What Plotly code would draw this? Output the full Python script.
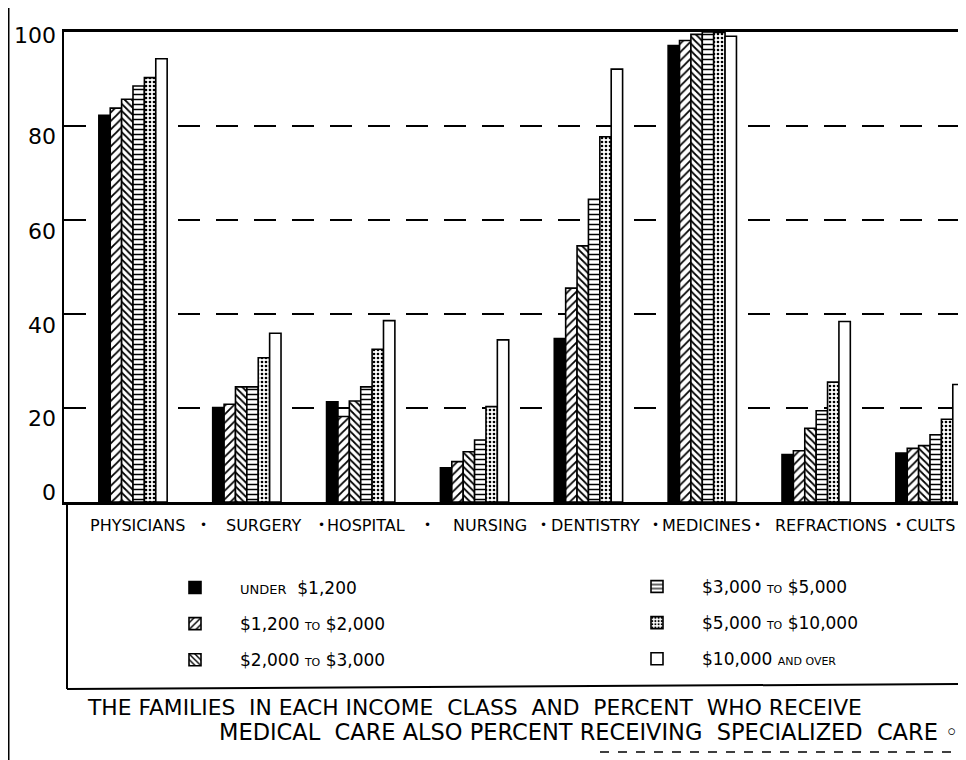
import plotly.graph_objects as go

# ---------------- data ----------------
categories = ["PHYSICIANS", "SURGERY", "HOSPITAL", "NURSING",
              "DENTISTRY", "MEDICINES", "REFRACTIONS", "CULTS"]

under_1200 = [82.3, 20.1, 21.3, 7.3, 34.8, 97.1, 10.1, 10.4]
from_1200_to_2000 = [83.8, 20.8, 18.2, 8.6, 45.5, 98.2, 10.9, 11.4]
from_2000_to_3000 = [85.7, 24.5, 21.5, 10.7, 54.5, 99.5, 15.7, 12.0]
from_3000_to_5000 = [88.5, 24.5, 24.5, 13.2, 64.4, 100.0, 19.4, 14.3]
from_5000_to_10000 = [90.3, 30.7, 32.5, 20.3, 77.7, 99.9, 25.5, 17.6]
over_10000 = [94.3, 35.9, 38.6, 34.5, 92.1, 99.1, 38.4, 25.0]

series_names = [
    "<span style='font-size:13px'>UNDER</span>  $1,200",
    "$1,200 <span style='font-size:11px'>TO</span> $2,000",
    "$2,000 <span style='font-size:11px'>TO</span> $3,000",
    "$3,000 <span style='font-size:11px'>TO</span> $5,000",
    "$5,000 <span style='font-size:11px'>TO</span> $10,000",
    "$10,000 <span style='font-size:11px'>AND OVER</span>",
]
series_values = [under_1200, from_1200_to_2000, from_2000_to_3000,
                 from_3000_to_5000, from_5000_to_10000, over_10000]

y_ticks = [0, 20, 40, 60, 80, 100]
y_tick_labels = ["0", "20", "40", "60", "80", "100"]

title_line1 = "THE FAMILIES  IN EACH INCOME  CLASS  AND  PERCENT  WHO RECEIVE"
title_line2 = "MEDICAL  CARE ALSO PERCENT RECEIVING  SPECIALIZED  CARE ◦"

# ---------------- geometry helpers (window pixel coordinates) ----------------
OFF = 8                      # default page body margin
WIN_W, WIN_H = 966, 760
W, H = WIN_W - OFF, WIN_H - OFF
L, R, T, B = 64, 966, 32, 502   # plot area in window pixels


def px(x):
    return (x - L) / (R - L)


def py(y):
    return (B - y) / (B - T)


FONT = "DejaVu Sans"

styles = [
    dict(color="black"),
    dict(color="white", pattern=dict(shape="/", fgcolor="black", bgcolor="white",
                                     size=6, solidity=0.3, fillmode="replace")),
    dict(color="white", pattern=dict(shape="\\", fgcolor="black", bgcolor="white",
                                     size=5, solidity=0.35, fillmode="replace")),
    dict(color="white", pattern=dict(shape="-", fgcolor="black", bgcolor="white",
                                     size=5, solidity=0.3, fillmode="replace")),
    dict(color="white", pattern=dict(shape=".", fgcolor="black", bgcolor="white",
                                     size=4, solidity=0.35, fillmode="replace")),
    dict(color="white"),
]

fig = go.Figure()
for i, (name, vals, st) in enumerate(zip(series_names, series_values, styles)):
    fig.add_trace(go.Bar(
        x=categories, y=vals, name=name,
        marker=dict(line=dict(color="black", width=1.6), **st),
        legend="legend" if i < 3 else "legend2",
        legendgroup=f"g{i}",
    ))

annotations = []
# hand-placed y labels (lettered slightly off the rules, as in the original)
label_yshift = [10, -10, -11, -11, -10, -3]
for val, txt, sh in zip(y_ticks, y_tick_labels, label_yshift):
    annotations.append(dict(x=px(58), xref="paper", y=val, yref="y", text=txt,
                            showarrow=False, xanchor="right", yanchor="middle",
                            yshift=sh,
                            font=dict(family=FONT, size=22, color="black")))

# category labels under the baseline
label_shift = [4, 17, 5, 15, 7, 4, 15, 1]
bullet_px = [203, 321, 427, 543, 655, 757, 898]
for cat, sh in zip(categories, label_shift):
    annotations.append(dict(x=cat, xref="x", y=py(525), yref="paper", text=cat,
                            showarrow=False, xshift=sh, xanchor="center",
                            yanchor="middle",
                            font=dict(family=FONT, size=16, color="black")))
for bx in bullet_px:
    annotations.append(dict(x=px(bx), xref="paper", y=py(525), yref="paper",
                            text="•", showarrow=False, xanchor="center",
                            yanchor="middle",
                            font=dict(family=FONT, size=12, color="black")))
annotations.append(dict(x=px(85), xref="paper", y=py(707), yref="paper",
                        text=title_line1, showarrow=False, xanchor="left",
                        yanchor="middle",
                        font=dict(family=FONT, size=21.8, color="black")))
annotations.append(dict(x=px(217), xref="paper", y=py(732), yref="paper",
                        text=title_line2, showarrow=False, xanchor="left",
                        yanchor="middle",
                        font=dict(family=FONT, size=22.5, color="black")))

shapes = [
    # far-left frame line
    dict(type="line", xref="paper", yref="paper", x0=px(8), x1=px(8),
         y0=py(0), y1=py(760), line=dict(color="black", width=3)),
    # label/legend box
    dict(type="line", xref="paper", yref="paper", x0=px(67), x1=px(67),
         y0=py(502), y1=py(689), line=dict(color="black", width=2)),
    dict(type="line", xref="paper", yref="paper", x0=px(67), x1=px(966),
         y0=py(689), y1=py(684), line=dict(color="black", width=2)),
    # partial bottom line
    dict(type="line", xref="paper", yref="paper", x0=px(600), x1=px(966),
         y0=py(752), y1=py(752), line=dict(color="black", width=1.5, dash="dash")),
]

legend_common = dict(
    font=dict(family=FONT, size=17, color="black"),
    bgcolor="rgba(0,0,0,0)", itemwidth=80, tracegroupgap=11,
    xanchor="left", yanchor="top", orientation="v",
    itemclick=False, itemdoubleclick=False,
)

fig.update_layout(
    width=W, height=H,
    margin=dict(l=L - OFF, r=WIN_W - R, t=T - OFF, b=WIN_H - B, pad=0),
    paper_bgcolor="white", plot_bgcolor="white",
    barmode="group", bargap=0.4, bargroupgap=0.0,
    font=dict(family=FONT, color="black"),
    xaxis=dict(range=[-0.606, 7.316], showticklabels=False, ticks="",
               showgrid=False, zeroline=False, showline=True, mirror=True,
               linecolor="black", linewidth=2.5, fixedrange=True),
    yaxis=dict(range=[0, 100], tickvals=y_ticks, showticklabels=False,
               showgrid=True, gridcolor="black", gridwidth=1.6,
               griddash="22px,16px", zeroline=False, showline=True,
               linecolor="black", linewidth=2, ticks="", fixedrange=True),
    legend=dict(x=px(150), y=py(570), **legend_common),
    legend2=dict(x=px(612), y=py(569), **legend_common),
    annotations=annotations,
    shapes=shapes,
)

fig.write_html("out.html")
